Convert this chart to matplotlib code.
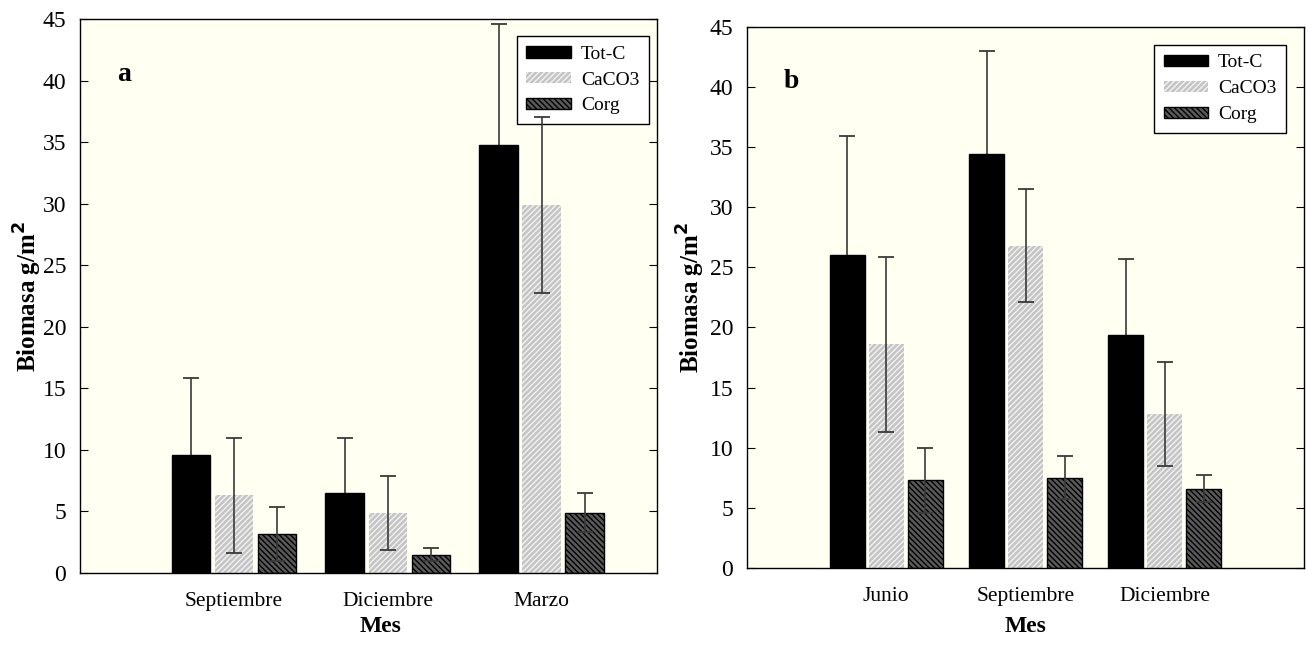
import matplotlib
matplotlib.use("Agg")
import matplotlib.pyplot as plt
import numpy as np

plt.rcParams['font.family'] = ['Liberation Serif', 'DejaVu Serif']
plt.rcParams['hatch.linewidth'] = 1.0

series = ["Tot-C", "CaCO3", "Corg"]

# Panel a
months_a = ["Septiembre", "Diciembre", "Marzo"]
totc_a = [9.6, 6.5, 34.8]
totc_a_err = [6.2, 4.5, 9.8]
caco3_a = [6.3, 4.9, 29.9]
caco3_a_err = [4.65, 3.0, 7.15]
corg_a = [3.2, 1.5, 4.9]
corg_a_err = [2.2, 0.5, 1.6]

# Panel b
months_b = ["Junio", "Septiembre", "Diciembre"]
totc_b = [26.0, 34.4, 19.4]
totc_b_err = [9.9, 8.6, 6.3]
caco3_b = [18.6, 26.8, 12.8]
caco3_b_err = [7.3, 4.7, 4.3]
corg_b = [7.3, 7.5, 6.6]
corg_b_err = [2.7, 1.8, 1.15]

yticks = [0, 5, 10, 15, 20, 25, 30, 35, 40, 45]

styles = [
    dict(facecolor="black", edgecolor="black", linewidth=1.0, hatch=None),
    dict(facecolor="#c4c4c4", edgecolor="#f2f2f2", linewidth=0.0, hatch="//////"),
    dict(facecolor="#5a5a5a", edgecolor="black", linewidth=1.0, hatch="\\\\\\\\\\\\"),
]

fig = plt.figure(figsize=(13.06, 6.48), dpi=100)
ax_a = fig.add_axes([0.0613, 0.1157, 0.4418, 0.855])
ax_b = fig.add_axes([0.572, 0.1235, 0.4265, 0.835])

def draw(ax, months, data, errs, letter, xmax, leg_anchor, xlab_xy, ylab_x):
    x = np.arange(1, len(months) + 1)
    w = 0.25
    off = 0.28
    for i, (vals, err, st) in enumerate(zip(data, errs, styles)):
        xs = x + (i - 1) * off
        ax.bar(xs, vals, width=w, label=series[i], zorder=2, **st)
        ax.errorbar(xs, vals, yerr=err, fmt="none", ecolor="#3a3a3a",
                    elinewidth=1.2, capsize=6, capthick=1.3,
                    zorder=1 if i == 0 else 4)
    ax.set_facecolor("#fffff2")
    ax.set_xlim(0, xmax)
    ax.set_ylim(0, 45)
    ax.set_yticks(yticks)
    ax.set_xticks(x)
    ax.set_xticklabels(months, fontsize=15.5)
    ax.tick_params(axis="x", length=0, pad=14)
    ax.tick_params(axis="y", direction="in", length=6, labelsize=17, right=True, pad=10)
    ax.set_xlabel("Mes", fontsize=17, fontweight="bold")
    ax.xaxis.set_label_coords(*xlab_xy)
    ax.set_ylabel("Biomasa g/m$\\mathbf{^2}$", fontsize=18, fontweight="bold")
    ax.yaxis.set_label_coords(ylab_x, 0.5)
    ax.text(0.065, 0.9, letter, transform=ax.transAxes, fontsize=20,
            fontweight="bold", va="center", ha="left")
    leg = ax.legend(loc="upper right", fontsize=14, fancybox=False,
                    edgecolor="black", framealpha=1, handlelength=2.3,
                    handleheight=0.5, handletextpad=0.5, borderpad=0.5,
                    labelspacing=0.45, borderaxespad=0,
                    bbox_to_anchor=leg_anchor)
    leg.set_zorder(3)
    leg.get_frame().set_linewidth(1.0)
    for sp in ax.spines.values():
        sp.set_linewidth(1.0)

draw(ax_a, months_a, [totc_a, caco3_a, corg_a],
     [totc_a_err, caco3_a_err, corg_a_err], "a", 3.75, (0.986, 0.969),
     (0.52, -0.078), -0.063)
draw(ax_b, months_b, [totc_b, caco3_b, corg_b],
     [totc_b_err, caco3_b_err, corg_b_err], "b", 4.0, (0.968, 0.967),
     (0.5, -0.089), -0.072)

fig.savefig("out.png", dpi=100, facecolor="white")
